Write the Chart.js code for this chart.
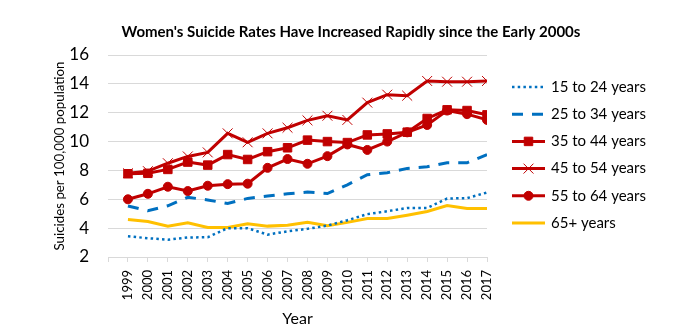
<!DOCTYPE html>
<html>
<head>
    <title>Women's Suicide Rates</title>
    <script src="https://cdn.jsdelivr.net/npm/chart.js@4/dist/chart.umd.min.js"></script>
    <style>
        html, body { margin: 0; padding: 0; background: #fff; }
        .chart-container { width: 686px; height: 336px; }
    </style>
</head>
<body>
    <div class="chart-container">
        <canvas id="rateChart" width="686" height="336"></canvas>
    </div>

    <script>
    // Values (suicides per 100,000 women)
    const years = [1999, 2000, 2001, 2002, 2003, 2004, 2005, 2006, 2007, 2008,
                   2009, 2010, 2011, 2012, 2013, 2014, 2015, 2016, 2017];
    const age15to24 = [3.44, 3.3, 3.2, 3.35, 3.37, 4.0, 4.0, 3.55, 3.78, 3.95,
                       4.18, 4.55, 4.97, 5.17, 5.4, 5.4, 6.05, 6.08, 6.47];
    const age25to34 = [5.54, 5.2, 5.55, 6.14, 5.95, 5.71, 6.06, 6.22, 6.38, 6.5,
                       6.4, 7.0, 7.7, 7.84, 8.14, 8.25, 8.53, 8.53, 9.1];
    const age35to44 = [7.77, 7.8, 8.07, 8.58, 8.37, 9.1, 8.76, 9.3, 9.57, 10.1,
                       10.0, 9.93, 10.46, 10.53, 10.65, 11.6, 12.2, 12.15, 11.85];
    const age45to54 = [7.8, 7.95, 8.5, 8.97, 9.25, 10.57, 9.95, 10.57, 10.96, 11.47,
                       11.79, 11.5, 12.7, 13.25, 13.18, 14.2, 14.15, 14.15, 14.2];
    const age55to64 = [6.0, 6.38, 6.87, 6.57, 6.94, 7.05, 7.08, 8.18, 8.79, 8.46,
                       8.99, 9.8, 9.42, 10.0, 10.64, 11.15, 12.15, 11.9, 11.5];
    const age65plus = [4.6, 4.46, 4.14, 4.37, 4.05, 4.05, 4.3, 4.14, 4.2, 4.4,
                       4.16, 4.4, 4.67, 4.67, 4.9, 5.15, 5.57, 5.36, 5.36];
    const seriesLabels = ['15 to 24 years', '25 to 34 years', '35 to 44 years',
                          '45 to 54 years', '55 to 64 years', '65+ years'];
    const yTicks = [2, 4, 6, 8, 10, 12, 14, 16];

    const FONT = 'Lato, "Open Sans", sans-serif';
    const RED = '#C00000';
    const BLUE = '#0070C0';
    const GOLD = '#FFC000';

    function toPoints(values) {
        return years.map((yr, i) => ({ x: yr, y: values[i] }));
    }

    // title drawn at the canvas centre, as in the reference
    const titlePlugin = {
        id: 'centerTitle',
        afterDraw(chart) {
            const ctx = chart.ctx;
            ctx.save();
            ctx.font = 'bold 15px ' + FONT;
            ctx.fillStyle = '#000';
            ctx.textAlign = 'center';
            ctx.textBaseline = 'middle';
            ctx.fillText("Women's Suicide Rates Have Increased Rapidly since the Early 2000s", 351, 32);
            ctx.restore();
        }
    };

    // legend with a line sample and the marker in its middle
    const lineLegend = {
        id: 'lineLegend',
        afterDraw(chart) {
            const ctx = chart.ctx;
            const x0 = 512, x1 = 545, textX = 551;
            chart.data.datasets.forEach((ds, i) => {
                const y = 87 + i * 27.2;
                ctx.save();
                ctx.strokeStyle = ds.borderColor;
                ctx.lineWidth = ds.borderWidth;
                ctx.lineCap = ds.borderCapStyle || 'butt';
                ctx.setLineDash(ds.borderDash || []);
                ctx.beginPath();
                ctx.moveTo(x0, y);
                ctx.lineTo(x1, y);
                ctx.stroke();
                ctx.setLineDash([]);
                if (ds.pointRadius > 0) {
                    ctx.fillStyle = ds.pointBackgroundColor;
                    ctx.strokeStyle = ds.pointBorderColor;
                    ctx.lineWidth = ds.pointBorderWidth;
                    Chart.helpers.drawPoint(ctx, {
                        pointStyle: ds.pointStyle,
                        radius: ds.pointRadius,
                        rotation: 0,
                        borderWidth: ds.pointBorderWidth
                    }, (x0 + x1) / 2, y);
                }
                ctx.fillStyle = '#000';
                ctx.font = '15px ' + FONT;
                ctx.textAlign = 'left';
                ctx.textBaseline = 'middle';
                ctx.fillText(ds.label, textX, y);
                ctx.restore();
            });
        }
    };

    function lineSet(label, values, color, extra) {
        return Object.assign({
            label: label,
            data: toPoints(values),
            borderColor: color,
            backgroundColor: color,
            borderWidth: 3,
            pointRadius: 0,
            pointHoverRadius: 0,
            pointBackgroundColor: color,
            pointBorderColor: color,
            pointBorderWidth: 1,
            tension: 0,
            fill: false
        }, extra || {});
    }

    const ctx = document.getElementById('rateChart').getContext('2d');
    new Chart(ctx, {
        type: 'line',
        data: {
            datasets: [
                lineSet(seriesLabels[0], age15to24, BLUE, { borderWidth: 2.5, borderDash: [2.5, 3.2] }),
                lineSet(seriesLabels[1], age25to34, BLUE, { borderDash: [11, 9] }),
                lineSet(seriesLabels[2], age35to44, RED, { pointStyle: 'rect', pointRadius: 6 }),
                lineSet(seriesLabels[3], age45to54, RED, { pointStyle: 'crossRot', pointRadius: 7 }),
                lineSet(seriesLabels[4], age55to64, RED, { pointStyle: 'circle', pointRadius: 4.5 }),
                lineSet(seriesLabels[5], age65plus, GOLD)
            ]
        },
        options: {
            responsive: false,
            maintainAspectRatio: false,
            animation: false,
            layout: { padding: { top: 55, left: 48, right: 199, bottom: 0 } },
            plugins: {
                legend: { display: false },
                title: { display: false },
                tooltip: { enabled: false }
            },
            scales: {
                x: {
                    type: 'linear',
                    min: 1998,
                    max: 2017,
                    afterFit(scale) { scale.height = 79; },
                    afterBuildTicks(scale) {
                        scale.ticks = [1998].concat(years).map(v => ({ value: v }));
                    },
                    ticks: {
                        autoSkip: false,
                        minRotation: 90,
                        maxRotation: 90,
                        padding: 8,
                        color: '#000',
                        font: { family: FONT, size: 13 },
                        callback: v => (v === 1998 ? '' : String(v))
                    },
                    grid: {
                        drawOnChartArea: false,
                        drawTicks: true,
                        tickLength: 5,
                        color: '#d9d9d9'
                    },
                    border: { display: true, color: '#d9d9d9' },
                    title: {
                        display: true,
                        text: 'Year',
                        color: '#000',
                        font: { family: FONT, size: 16 },
                        padding: { top: 0, bottom: 8 }
                    }
                },
                y: {
                    min: 2,
                    max: 16,
                    afterFit(scale) { scale.width = 60; },
                    afterBuildTicks(scale) {
                        scale.ticks = yTicks.map(v => ({ value: v }));
                    },
                    ticks: {
                        padding: 19,
                        color: '#000',
                        font: { family: FONT, size: 17 }
                    },
                    grid: { color: '#d9d9d9', drawTicks: false },
                    border: { display: false },
                    title: {
                        display: true,
                        text: 'Suicides per 100,000 population',
                        color: '#000',
                        font: { family: FONT, size: 13.3 },
                        padding: { top: 4, bottom: 0 }
                    }
                }
            }
        },
        plugins: [titlePlugin, lineLegend]
    });
    </script>
</body>
</html>
